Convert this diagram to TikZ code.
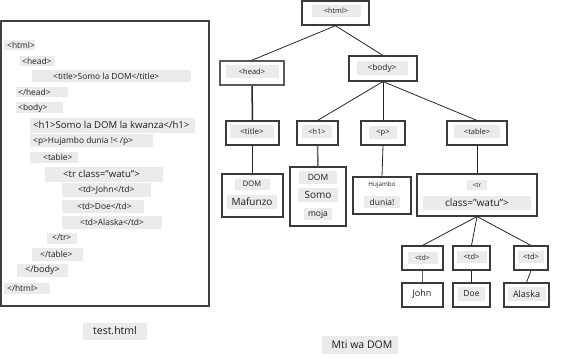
\documentclass[tikz,border=0pt]{standalone}
\usepackage{fontspec}
\setmainfont{Open Sans}
\definecolor{gbg}{HTML}{EBEBEB}
\definecolor{bord}{HTML}{3A3A3A}
\definecolor{txt}{HTML}{1E1E1E}
\newcommand{\fs}[1]{\fontsize{#1}{#1}\selectfont}
\tikzset{
  codetxt/.style={anchor=west, inner sep=0pt, text=txt, font=\fs{8.4}},
  tbox/.style={draw=bord, line width=1.1pt, fill=white, inner sep=0pt},
  tlab/.style={fill=gbg, inner sep=1.5pt, text=txt},
  edge/.style={draw=black!85, line width=0.8pt},
}
\newcommand{\codeline}[7]{%
  \fill[gbg] (#2,#4-#5/2) rectangle (#3,#4+#5/2);
  \node[codetxt] (#1) at (#6,#4) {#7};}
\begin{document}
\begin{tikzpicture}[x=1pt,y=-1pt]
\useasboundingbox (0,0) rectangle (561,358);
% left panel
\draw[draw=black!75, line width=1.1pt] (1,21) rectangle (209,306);
\codeline{c1}{4}{35}{45}{10}{7}{<html>}
\codeline{c2}{20}{55}{61}{10}{22}{<head>}
\codeline{c3}{32}{191}{76}{12}{53}{<title>Somo la DOM</title>}
\codeline{c4}{16}{68}{92}{10}{18}{</head>}
\codeline{c5}{16}{63}{108}{11}{18}{<body>}
\fill[gbg] (30,118) rectangle (195,133);
\node[codetxt, font=\fs{9.6}] (c6) at (33,125) {<h1>Somo la DOM la kwanza</h1>};
\codeline{c7}{30}{153}{141}{13}{33}{<p>Hujambo dunia !< /p>}
\codeline{c8}{30}{78}{157}{11}{43}{<table>}
\fill[gbg] (45,167) rectangle (163,182);
\node[codetxt, font=\fs{9.6}] (c9) at (63,174) {<tr class="watu">};
\codeline{c10}{62}{151}{190}{14}{78}{<td>John</td>}
\codeline{c11}{62}{144}{206}{13}{77}{<td>Doe</td>}
\codeline{c12}{62}{162}{222}{13}{80}{<td>Alaska</td>}
\codeline{c13}{47}{77}{238}{11}{52}{</tr>}
\codeline{c14}{32}{83}{254}{13}{40}{</table>}
\fill[gbg] (17,264) rectangle (68,277);
\node[codetxt, font=\fs{9}] (c15) at (25,270) {</body>};
\codeline{c16}{4}{50}{288}{11}{7}{</html>}
\fill[gbg] (83,323) rectangle (147,340);
\node[codetxt, font=\fs{10.5}, anchor=center] (cap1) at (115,331) {test.html};
% tree boxes
\node[tbox, line width=1.5pt, minimum width=67pt, minimum height=24pt] (html) at (335.5,13) {};
\node[tlab, minimum width=49pt, minimum height=12pt, font=\fs{7.3}] at (336,11) {<html>};
\node[tbox, draw=black!65, line width=1.6pt, minimum width=64pt, minimum height=24pt] (head) at (252,73) {};
\node[tlab, minimum width=53pt, minimum height=13pt, font=\fs{7.5}] at (252,72) {<head>};
\node[tbox, minimum width=68pt, minimum height=25pt] (body) at (383,68.5) {};
\node[tlab, minimum width=51pt, minimum height=14pt, font=\fs{8.3}] at (382,68) {<body>};
\node[tbox, minimum width=53pt, minimum height=24pt] (title) at (252.5,133) {};
\node[tlab, minimum width=44pt, minimum height=13pt, font=\fs{8}] at (252,132) {<title>};
\node[tbox, minimum width=41pt, minimum height=24pt] (h1) at (317.5,133) {};
\node[tlab, minimum width=30pt, minimum height=13pt, font=\fs{7.3}] at (317,132) {<h1>};
\node[tbox, minimum width=44pt, minimum height=24pt] (p) at (383,133) {};
\node[tlab, minimum width=28pt, minimum height=13pt, font=\fs{7.5}] at (383,133) {<p>};
\node[tbox, minimum width=60pt, minimum height=24pt] (table) at (477,133) {};
\node[tlab, minimum width=46pt, minimum height=13pt, font=\fs{7.5}] at (477,132) {<table>};
\node[tbox, minimum width=61pt, minimum height=43pt] (mafunzo) at (252.5,195.5) {};
\node[tlab, minimum width=35pt, minimum height=11pt, font=\fs{7.5}] at (252,184) {DOM};
\node[tlab, minimum width=50pt, minimum height=14pt, font=\fs{10}] at (252,202) {Mafunzo};
\node[tbox, minimum width=56pt, minimum height=59pt] (somo) at (318,196.5) {};
\node[tlab, minimum width=38pt, minimum height=13pt, font=\fs{8.5}] at (318,177) {DOM};
\node[tlab, minimum width=40pt, minimum height=14pt, font=\fs{10}] at (318,195) {Somo};
\node[tlab, minimum width=28pt, minimum height=12pt, font=\fs{8.5}] at (318,214) {moja};
\node[tbox, minimum width=58pt, minimum height=37pt] (dunia) at (382,195.5) {};
\node[tlab, fill=none, font=\fs{6.3}] at (382,185) {Hujambo};
\node[tlab, minimum width=36pt, minimum height=12pt, font=\fs{8.5}] at (382,202) {dunia!};
\node[tbox, minimum width=120pt, minimum height=42pt] (tr) at (477,195) {};
\node[tlab, minimum width=20pt, minimum height=10pt, font=\fs{6.3}] at (477,185) {<tr};
\node[tlab, minimum width=108pt, minimum height=14pt, font=\fs{10}] at (477,203) {class="watu">};
\node[tbox, minimum width=41pt, minimum height=24pt] (td1) at (422.5,258) {};
\node[tlab, minimum width=30pt, minimum height=12pt, font=\fs{7}] at (422.5,258) {<td>};
\node[tbox, minimum width=37pt, minimum height=24pt] (td2) at (471.5,258) {};
\node[tlab, minimum width=30pt, minimum height=12pt, font=\fs{7.5}] at (471.5,257) {<td>};
\node[tbox, minimum width=34pt, minimum height=24pt] (td3) at (531,258) {};
\node[tlab, minimum width=26pt, minimum height=12pt, font=\fs{7.5}] at (531,257) {<td>};
\node[tbox, minimum width=41pt, minimum height=24pt] (john) at (422.5,295) {};
\node[tlab, fill=none, font=\fs{9}] at (422,294) {John};
\node[tbox, minimum width=37pt, minimum height=24pt] (doe) at (471.5,295) {};
\node[tlab, minimum width=27pt, minimum height=14pt, font=\fs{8.5}] at (471.5,294) {Doe};
\node[tbox, minimum width=45pt, minimum height=24pt] (alaska) at (526.5,295) {};
\node[tlab, minimum width=38pt, minimum height=14pt, font=\fs{9}] at (526.5,294) {Alaska};
\fill[gbg] (322,336) rectangle (398,354);
\node[text=txt, inner sep=0pt, font=\fs{10.5}] (cap2) at (362,345) {Mti wa DOM};
% edges
\draw[edge] (html.south) -- (head.north);
\draw[edge] (html.south) -- (body.north);
\draw[edge, line width=1.5pt] (head.south) -- (title.north);
\draw[edge] (body.south) -- (h1.north);
\draw[edge] (body.south) -- (p.north);
\draw[edge] (body.south) -- (table.north);
\draw[edge, line width=1.5pt] (title.south) -- (mafunzo.north);
\draw[edge, draw=black!60, line width=1.5pt] (h1.south) -- (somo.north);
\draw[edge] (p.south) -- (dunia.north);
\draw[edge] (table.south) -- (tr.north);
\draw[edge] (tr.south) -- (td1.north);
\draw[edge] (tr.south) -- (td2.north);
\draw[edge] (tr.south) -- (td3.north);
\draw[edge, draw=black!60, line width=1.2pt] (td1.south) -- (john.north);
\draw[edge] (td2.south) -- (doe.north);
\draw[edge] (td3.south) -- (alaska.north);
\end{tikzpicture}
\end{document}
